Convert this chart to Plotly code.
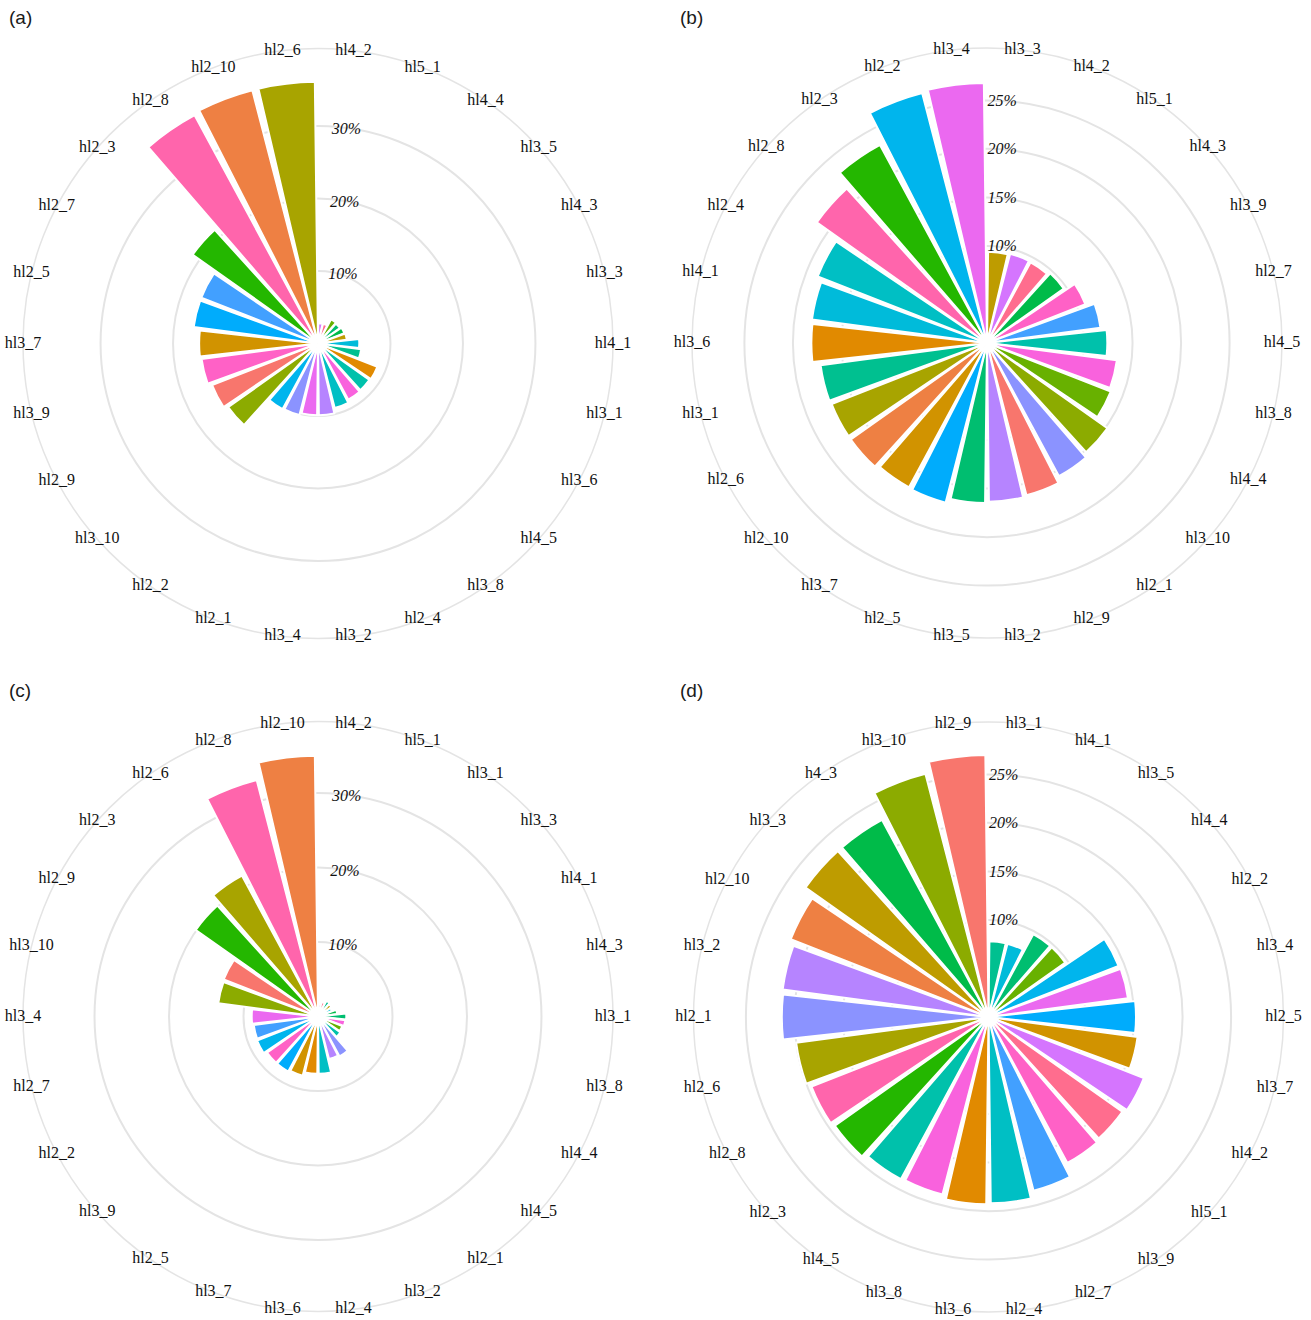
import math
import plotly.graph_objects as go

# ---- factor levels used for the fill scale (hue palette order) ----
fill_levels = ["hl2_9", "hl2_10", "hl3_6", "hl3_7", "hl3_3", "hl2_6", "hl3_10", "hl4_4",
               "hl2_3", "hl4_3", "hl3_5", "hl3_1", "hl4_5", "hl2_4", "hl4_1", "hl2_2",
               "hl2_5", "hl2_7", "hl2_1", "hl3_2", "hl4_2", "hl3_4", "hl3_8", "hl3_9",
               "hl2_8", "hl5_1"]

# ---- panel (a) ----
labels_a = ["hl4_2", "hl5_1", "hl4_4", "hl3_5", "hl4_3", "hl3_3", "hl4_1", "hl3_1", "hl3_6",
            "hl4_5", "hl3_8", "hl2_4", "hl3_2", "hl3_4", "hl2_1", "hl2_2", "hl3_10", "hl2_9",
            "hl3_9", "hl3_7", "hl2_5", "hl2_7", "hl2_3", "hl2_8", "hl2_10", "hl2_6"]
keys_a = list(labels_a)
values_a = [2.8, 2.8, 3.8, 3.7, 3.9, 4.0, 5.7, 6.0, 8.8, 8.7, 8.8, 9.2, 9.9, 9.9, 10.2, 10.3,
            15.2, 15.7, 16.2, 16.4, 17.3, 17.3, 21.2, 35.8, 36.1, 36.1]
ticks_a = [10, 20, 30]

# ---- panel (b) ----
labels_b = ["hl3_3", "hl4_2", "hl5_1", "hl4_3", "hl3_9", "hl2_7", "hl4_5", "hl3_8", "hl4_4",
            "hl3_10", "hl2_1", "hl2_9", "hl3_2", "hl3_5", "hl2_5", "hl3_7", "hl2_10", "hl2_6",
            "hl3_1", "hl3_6", "hl4_1", "hl2_4", "hl2_8", "hl2_3", "hl2_2", "hl3_4"]
keys_b = list(labels_b)
values_b = [9.4, 9.5, 9.45, 9.7, 10.9, 11.8, 12.4, 13.5, 13.7, 15.2, 15.6, 16.2, 16.35, 16.5,
            17.0, 16.9, 17.2, 17.2, 17.3, 18.1, 18.2, 18.75, 21.5, 23.2, 26.6, 26.8]
ticks_b = [10, 15, 20, 25]

# ---- panel (c) ----
labels_c = ["hl4_2", "hl5_1", "hl3_1", "hl3_3", "hl4_1", "hl4_3", "hl3_1", "hl3_8", "hl4_4",
            "hl4_5", "hl2_1", "hl3_2", "hl2_4", "hl3_6", "hl3_7", "hl2_5", "hl3_9", "hl2_2",
            "hl2_7", "hl3_4", "hl3_10", "hl2_9", "hl2_3", "hl2_6", "hl2_8", "hl2_10"]
keys_c = ["hl4_2", "hl5_1", "hl3_1", "hl3_3", "hl4_1", "hl4_3", "hl3_5", "hl3_8", "hl4_4",
          "hl4_5", "hl2_1", "hl3_2", "hl2_4", "hl3_6", "hl3_7", "hl2_5", "hl3_9", "hl2_2",
          "hl2_7", "hl3_4", "hl3_10", "hl2_9", "hl2_3", "hl2_6", "hl2_8", "hl2_10"]
values_c = [1.6, 2.0, 2.4, 2.2, 2.0, 2.6, 3.8, 3.7, 3.5, 3.7, 6.1, 5.9, 7.7, 7.7, 8.2, 8.4,
            8.4, 8.8, 8.7, 8.9, 13.5, 13.6, 20.1, 21.5, 32.8, 35.0]
ticks_c = [10, 20, 30]

# ---- panel (d) ----
labels_d = ["hl3_1", "hl4_1", "hl3_5", "hl4_4", "hl2_2", "hl3_4", "hl2_5", "hl3_7", "hl4_2",
            "hl5_1", "hl3_9", "hl2_7", "hl2_4", "hl3_6", "hl3_8", "hl4_5", "hl2_3", "hl2_8",
            "hl2_6", "hl2_1", "hl3_2", "hl2_10", "hl3_3", "h4_3", "hl3_10", "hl2_9"]
keys_d = ["hl3_1", "hl4_1", "hl3_5", "hl4_4", "hl2_2", "hl3_4", "hl2_5", "hl3_7", "hl4_2",
          "hl5_1", "hl3_9", "hl2_7", "hl2_4", "hl3_6", "hl3_8", "hl4_5", "hl2_3", "hl2_8",
          "hl2_6", "hl2_1", "hl3_2", "hl2_10", "hl3_3", "hl4_3", "hl3_10", "hl2_9"]
values_d = [7.8, 7.8, 9.7, 9.7, 14.4, 14.5, 15.2, 15.5, 17.2, 16.9, 17.1, 18.5, 19.2, 19.3,
            18.9, 19.0, 19.4, 19.6, 20.0, 21.3, 21.4, 21.9, 23.1, 23.1, 25.9, 27.0]
ticks_d = [10, 15, 20, 25]


def hcl_hex(h, c=100.0, l=65.0):
    """Polar LUV (HCL) to sRGB hex, D65 white, clipped like R's hcl()."""
    xn, yn, zn = 95.047, 100.0, 108.883
    un = 4 * xn / (xn + 15 * yn + 3 * zn)
    vn = 9 * yn / (xn + 15 * yn + 3 * zn)
    u = c * math.cos(math.radians(h))
    v = c * math.sin(math.radians(h))
    y = yn * ((l + 16) / 116) ** 3 if l > 8 else yn * l / 903.3
    up = u / (13 * l) + un
    vp = v / (13 * l) + vn
    x = 9.0 * y * up / (4 * vp)
    z = -x / 3 - 5 * y + 3 * y / vp
    x, y, z = x / 100, y / 100, z / 100
    rl = 3.240479 * x - 1.537150 * y - 0.498535 * z
    gl = -0.969256 * x + 1.875992 * y + 0.041556 * z
    bl = 0.055648 * x - 0.204043 * y + 1.057311 * z

    def gam(t):
        t = 12.92 * t if t <= 0.0031308 else 1.055 * t ** (1 / 2.4) - 0.055
        return int(round(min(max(t, 0.0), 1.0) * 255))

    return "#{:02X}{:02X}{:02X}".format(gam(rl), gam(gl), gam(bl))


n_lv = len(fill_levels)
palette = {lv: hcl_hex(15 + 360.0 * i / n_lv) for i, lv in enumerate(fill_levels)}

W, H = 1311, 1320
RING = 295  # px radius of the outer circle

# raxis: direction (deg, counter-clockwise from east) along which the % labels are set
panels = [
    dict(name="a", labels=labels_a, keys=keys_a, values=values_a, ticks=ticks_a,
         rmax=40.7, cx=318.0, cy=343.5, raxis=88.6, tag="(a)", tx=7, ty=17),
    dict(name="b", labels=labels_b, keys=keys_b, values=values_b, ticks=ticks_b,
         rmax=30.4, cx=987.0, cy=343.0, raxis=90.0, tag="(b)", tx=678, ty=17),
    dict(name="c", labels=labels_c, keys=keys_c, values=values_c, ticks=ticks_c,
         rmax=39.6, cx=318.0, cy=1016.5, raxis=88.6, tag="(c)", tx=7, ty=690),
    dict(name="d", labels=labels_d, keys=keys_d, values=values_d, ticks=ticks_d,
         rmax=30.4, cx=988.5, cy=1017.0, raxis=90.0, tag="(d)", tx=678, ty=690),
]

fig = go.Figure()
layout_polars = {}
annotations = []
GRID = "#E4E4E4"
SERIF = "Liberation Serif, Times New Roman, serif"

for idx, p in enumerate(panels):
    pid = "polar" if idx == 0 else f"polar{idx + 1}"
    n = len(p["keys"])
    fig.add_trace(go.Barpolar(
        r=p["values"], theta=p["keys"], subplot=pid,
        marker=dict(color=[palette[k] for k in p["keys"]],
                    line=dict(color="white", width=2)),
        showlegend=False, hoverinfo="skip",
    ))
    # category labels sitting on the outer circle
    fig.add_trace(go.Scatterpolar(
        r=[p["rmax"]] * n, theta=p["keys"], text=p["labels"], mode="text",
        textposition="middle center", subplot=pid, cliponaxis=False,
        textfont=dict(family=SERIF, size=16, color="#111111"),
        showlegend=False, hoverinfo="skip",
    ))
    x0 = (p["cx"] - RING) / W
    x1 = (p["cx"] + RING) / W
    y0 = 1 - (p["cy"] + RING) / H
    y1 = 1 - (p["cy"] - RING) / H
    layout_polars[pid] = dict(
        domain=dict(x=[x0, x1], y=[y0, y1]),
        bgcolor="white",
        radialaxis=dict(
            range=[0, p["rmax"]], tickvals=p["ticks"],
            ticktext=[f"{t}%" for t in p["ticks"]],
            angle=p["raxis"], tickangle=p["raxis"], side="clockwise",
            showline=False, ticks="", gridcolor=GRID, gridwidth=1.5,
            tickfont=dict(family=SERIF, size=16, color="#111111", style="italic"),
        ),
        angularaxis=dict(
            type="category", categoryarray=p["keys"], direction="clockwise",
            rotation=90 - 180.0 / n, showgrid=False, showticklabels=False,
            ticks="", showline=True, linecolor=GRID, linewidth=1.5,
            layer="below traces",
        ),
    )
    annotations.append(dict(
        text=p["tag"], x=p["tx"] / W, y=1 - p["ty"] / H, xref="paper", yref="paper",
        xanchor="left", yanchor="middle", showarrow=False,
        font=dict(family="Liberation Sans, Arial, sans-serif", size=19, color="#1A1A1A"),
    ))

fig.update_layout(
    width=W, height=H, margin=dict(l=0, r=0, t=0, b=0),
    paper_bgcolor="white", plot_bgcolor="white",
    annotations=annotations, **layout_polars,
)

fig.write_html("out.html")
